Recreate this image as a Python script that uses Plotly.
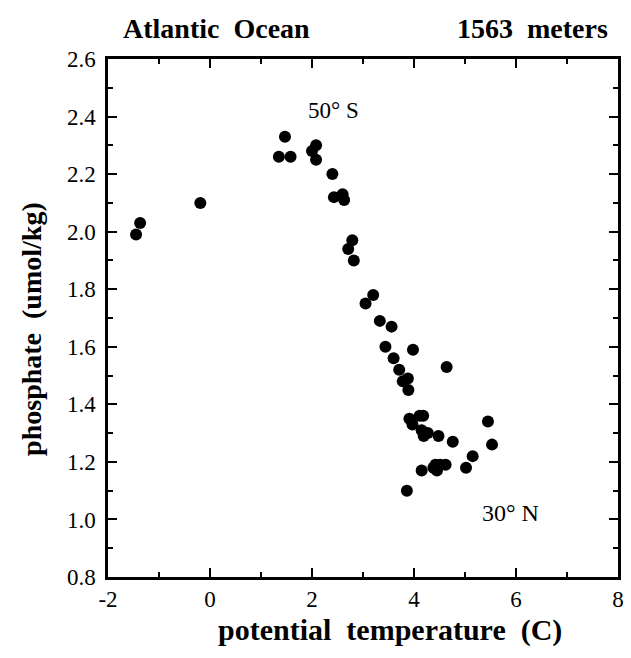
import plotly.graph_objects as go

# Potential temperature (C) and phosphate (umol/kg) at 1563 m, Atlantic section
temperature = [-1.45, -1.37, -0.19, 1.35, 1.47, 1.58, 2.00, 2.08, 2.08, 2.40,
               2.43, 2.60, 2.63, 2.79, 2.71, 2.82, 3.05, 3.20, 3.33, 3.56,
               3.44, 3.98, 3.60, 3.71, 4.64, 3.88, 3.78, 3.89, 3.91, 4.11,
               4.18, 3.97, 4.15, 4.27, 4.19, 4.48, 4.76, 5.45, 5.53, 5.15,
               5.02, 4.15, 4.38, 4.45, 4.42, 4.62, 4.51, 3.86]
phosphate = [1.99, 2.03, 2.10, 2.26, 2.33, 2.26, 2.28, 2.30, 2.25, 2.20,
             2.12, 2.13, 2.11, 1.97, 1.94, 1.90, 1.75, 1.78, 1.69, 1.67,
             1.60, 1.59, 1.56, 1.52, 1.53, 1.49, 1.48, 1.45, 1.35, 1.36,
             1.36, 1.33, 1.31, 1.30, 1.29, 1.29, 1.27, 1.34, 1.26, 1.22,
             1.18, 1.17, 1.18, 1.17, 1.19, 1.19, 1.19, 1.10]

x_ticks = [-2, 0, 2, 4, 6, 8]
y_ticks = [0.8, 1.0, 1.2, 1.4, 1.6, 1.8, 2.0, 2.2, 2.4, 2.6]

serif = "Liberation Serif, Times New Roman, serif"
NB = "\u00a0"
GAP = NB * 2

W, H = 631, 658
L, R, T, B = 108, 7, 59, 81
PW, PH = W - L - R, H - T - B


def px(x):
    return (x - L) / PW


def py(y):
    return (H - B - y) / PH


fig = go.Figure(
    go.Scatter(
        x=temperature, y=phosphate, mode="markers",
        marker=dict(size=12, color="black", line=dict(width=0)),
        hoverinfo="x+y",
    )
)

axis_common = dict(
    showgrid=False, zeroline=False, showline=True, linecolor="black",
    linewidth=2.5, mirror="allticks", ticks="inside", ticklen=9,
    tickwidth=2, tickcolor="black",
    tickfont=dict(family=serif, size=23, color="black"),
)

fig.update_xaxes(
    range=[-2, 8], tickvals=x_ticks, ticktext=[str(v) for v in x_ticks],
    minor=dict(dtick=1, ticks="inside", ticklen=5, tickwidth=1.5, tickcolor="black"),
    **axis_common,
)
fig.update_yaxes(
    range=[0.8, 2.6], tickvals=y_ticks, ticktext=[f"{v:.1f}" for v in y_ticks],
    minor=dict(dtick=0.1, ticks="inside", ticklen=5, tickwidth=1.5, tickcolor="black"),
    ticklabelstandoff=5,
    **axis_common,
)

bold_font = dict(family=serif, color="black", weight="bold")
anns = [
    dict(text=f"Atlantic{GAP}Ocean", x=px(218), y=py(28), font=dict(size=28, **bold_font)),
    dict(text=f"1563{GAP}meters", x=px(537), y=py(28), font=dict(size=28, **bold_font)),
    dict(text=f"potential{GAP}temperature{GAP}(C)", x=px(393), y=py(630),
         font=dict(size=30, **bold_font)),
    dict(text=f"phosphate{GAP}(umol/kg)", x=px(30), y=py(329), textangle=-90,
         font=dict(size=28, **bold_font)),
]
for a in anns:
    a.update(xref="paper", yref="paper", showarrow=False,
             xanchor="center", yanchor="middle")

# Section end labels
anns.append(dict(text="50°\u00a0S", x=2.42, y=2.42, xref="x", yref="y",
                 showarrow=False, font=dict(family=serif, size=23, color="black")))
anns.append(dict(text="30°\u00a0N", x=5.9, y=1.024, xref="x", yref="y",
                 showarrow=False, font=dict(family=serif, size=24, color="black")))

fig.update_layout(
    width=W, height=H,
    margin=dict(l=L, r=R, t=T, b=B),
    paper_bgcolor="white", plot_bgcolor="white",
    showlegend=False, annotations=anns,
)

fig.write_html("out.html")
